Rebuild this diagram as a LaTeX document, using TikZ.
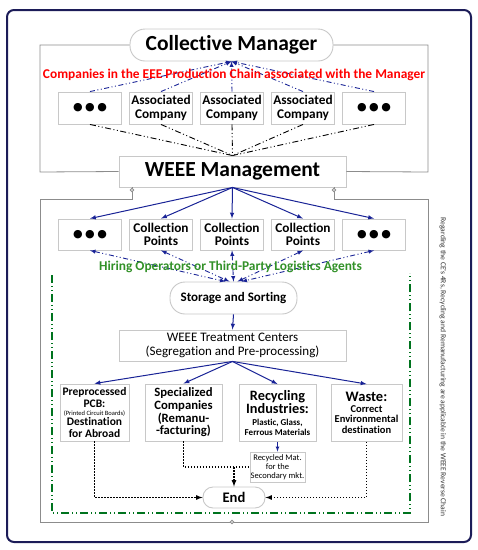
\documentclass[tikz,border=0pt]{standalone}
\usepackage{fontspec}
\setmainfont{Carlito}[Ligatures=NoCommon]
\newfontfamily\dotfont{DejaVu Sans}
\usetikzlibrary{arrows}
\definecolor{navyframe}{RGB}{28,28,88}
\definecolor{arrowblue}{RGB}{25,35,150}
\definecolor{hiregreen}{RGB}{50,145,40}
\definecolor{framegreen}{RGB}{0,115,30}
\definecolor{boxgrey}{RGB}{200,200,200}
\definecolor{framegrey}{RGB}{140,140,140}
\newcommand{\threedots}{{\dotfont\fontsize{11}{12}\selectfont ●\hspace{2.5pt}●\hspace{2.5pt}●}}

\begin{document}
\begin{tikzpicture}[x=1pt,y=-1pt,
            box/.style={
            draw=boxgrey,
            line width=0.9pt,
            fill=white,
            inner sep=0pt,
            align=center
            },
            pill/.style={box,rounded corners=15pt},
            rowbox/.style={box,minimum width=63pt,minimum height=32pt,
              font=\fontsize{13.3}{13.5}\selectfont\bfseries},
            lowbox/.style={box,minimum height=57pt},
            bluearrow/.style={draw=arrowblue,line width=1pt,-latex},
            bluedash/.style={draw=arrowblue,line width=0.9pt,
              dash pattern=on 5pt off 2.5pt on 1pt off 2.5pt on 1pt off 2.5pt},
            blackdash/.style={draw=black,line width=0.9pt,
              dash pattern=on 6pt off 2.5pt on 1pt off 2.5pt on 1pt off 2.5pt},
            dotarrow/.style={draw=black,line width=1.2pt,
              dash pattern=on 1.5pt off 1.5pt,-latex},
            frame/.style={draw=framegrey,line width=0.8pt}
            ]
            \useasboundingbox (0,0) rectangle (478,550);
            \draw[navyframe,line width=2pt,rounded corners=7pt] (7,10) rectangle (471,542);
            % top part
            \node[pill,minimum width=203pt,minimum height=32pt,
              font=\fontsize{21.5}{22}\selectfont\bfseries] (man) at (231.5,45) {Collective Manager};
            \node[box,minimum width=227pt,minimum height=31pt,
              font=\fontsize{21.5}{22}\selectfont\bfseries] (wm) at (232.5,171.5) {WEEE Management};
            \draw[frame] (man.west) -| (40,172) -- (wm.west);
            \draw[frame] (man.east) -| (428,172) -- (wm.east);
            \foreach \Value/\Label in {1/\threedots,2/{Associated\\Company},3/{Associated\\Company},
              4/{Associated\\Company},5/\threedots}
            \node[rowbox] (a\Value) at ({19+71*\Value},108) {\Label};
            \foreach \Value in {1,...,5}
            {
            \draw[bluedash,-latex] (a\Value.north) -- (man.south);
            \draw[blackdash] (a\Value.south) -- (wm.north);
            }
            \node[text=red,font=\fontsize{13.4}{14}\selectfont\bfseries] (comp) at (234,75)
              {Companies in the EEE Production Chain associated with the Manager};
            % lower part
            \draw[frame] ([xshift=-100.5pt]wm.south) |- (40,199) |- (428,522) |- (334,199)
              -- ([xshift=101.5pt]wm.south);
            \foreach \Value/\Label in {1/\threedots,2/{Collection\\Points},3/{Collection\\Points},
              4/{Collection\\Points},5/\threedots}
            \node[rowbox,minimum height=31pt] (c\Value) at ({19+71*\Value},234.5) {\Label};
            \node[pill,minimum width=127pt,minimum height=32pt,
              font=\fontsize{13}{14}\selectfont\bfseries] (st) at (233.5,298) {Storage and Sorting};
            \foreach \Value/\Shift in {1/-8,2/-4,3/0,4/4,5/8}
            {
            \draw[bluearrow] (wm.south) -- (c\Value.north);
            \draw[bluedash,latex-latex] (c\Value.south) -- ([xshift=\Shift pt]st.north);
            }
            \node[text=hiregreen,font=\fontsize{13.4}{14}\selectfont\bfseries] (hire) at (230.5,266.5)
              {Hiring Operators or Third-Party Logistics Agents};
            \draw[framegreen,line width=1.3pt,
              dash pattern=on 8pt off 3pt on 1pt off 3pt on 1pt off 3pt]
              (52,275) -- (52,513) -- (410,513) -- (410,273);
            \node[box,minimum width=227pt,minimum height=31pt,
              font=\fontsize{13}{14.5}\selectfont] (treat) at (232.5,345.5)
              {WEEE Treatment Centers\\(Segregation and Pre-processing)};
            \draw[bluearrow] (st.south) -- (treat.north);
            \node[lowbox,minimum width=69pt,font=\fontsize{11.5}{12}\selectfont\bfseries] (b1) at (94.5,412.5)
              {Preprocessed\\PCB:\\[-3pt]
               {\fontsize{6.5}{7}\selectfont\mdseries(Printed Circuit Boards)}\\[-2pt]
               Destination\\for Abroad};
            \node[lowbox,minimum width=77pt,font=\fontsize{12.7}{12.6}\selectfont\bfseries] (b2) at (183.5,412.5)
              {Specialized\\Companies\\(Remanu-\\-facturing)};
            \node[lowbox,minimum width=77pt,font=\fontsize{14.3}{13}\selectfont\bfseries] (b3) at (277.5,413)
              {Recycling\\Industries:\\[-1pt]
               {\fontsize{9}{10}\selectfont Plastic, Glass,}\\[-3pt]
               {\fontsize{9}{10}\selectfont Ferrous Materials}};
            \node[lowbox,minimum width=71pt,font=\fontsize{10.5}{11.5}\selectfont\bfseries] (b4) at (366.5,413)
              {{\fontsize{14.5}{13}\selectfont Waste:}\\[-1pt]
               Correct\\[-1pt]
               Environmental\\[-1pt]
               destination};
            \foreach \Value in {1,...,4}
            \draw[bluearrow] (treat.south) -- (b\Value.north);
            \node[box,minimum width=55pt,minimum height=30pt,
              font=\fontsize{8.5}{9}\selectfont] (rm) at (277.5,467)
              {Recycled Mat.\\for the\\Secondary mkt.};
            \draw[draw=arrowblue,line width=0.7pt,-latex] (b3.south) -- (rm.north);
            \node[pill,rounded corners=10pt,minimum width=62pt,minimum height=21pt,
              font=\fontsize{14.6}{15}\selectfont\bfseries] (end) at (234,497.5) {End};
            \draw[dotarrow] (b1.south) |- (end.west);
            \draw[dotarrow] (b4.south) |- (end.east);
            \draw[dotarrow,-] (b2.south) |- (rm.west);
            \draw[dotarrow] (end.north |- rm.west) -- (end.north);
            % small joints on the frame
            \foreach \Pos in {(132,190),(334,190),(232,522)}
            \draw[frame,fill=white] \Pos circle (1.8pt);
            \node[rotate=-90,text=black!80,font=\fontsize{7.6}{8}\selectfont] (note) at (443,367)
              {Regarding the CE's 4Rs, Recycling and Remanufacturing are applicable in the WEEE Reverse Chain};
\end{tikzpicture}
\end{document}
